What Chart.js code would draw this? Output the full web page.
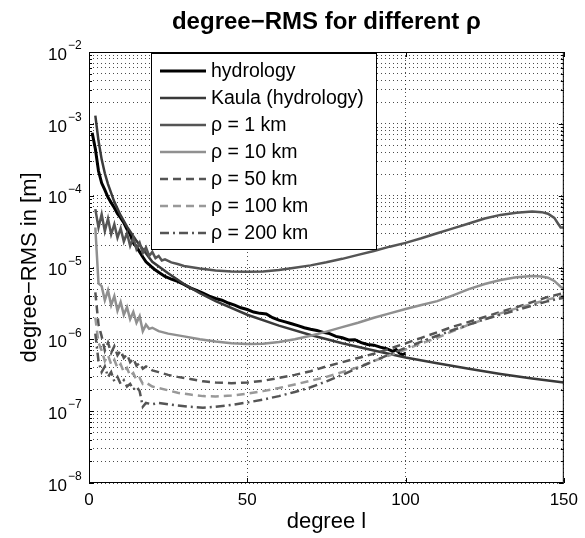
<!DOCTYPE html>
<html>
<head>
<meta charset="utf-8">
<script src="https://cdn.jsdelivr.net/npm/chart.js@4"></script>
<style>
  html, body { margin: 0; padding: 0; background: #fff; }
  canvas { display: block; }
</style>
</head>
<body>
<canvas id="chart" width="585" height="538"></canvas>
<script>
// ---- data (degree l -> degree-RMS in m) ----
const SERIES_LABELS = ['hydrology', 'Kaula (hydrology)', 'ρ = 1 km', 'ρ = 10 km', 'ρ = 50 km', 'ρ = 100 km', 'ρ = 200 km'];

const HYDRO_DEG = [1, 2, 3, 4, 5, 6, 7, 8, 9, 10, 11, 12, 13, 14, 15, 16, 17, 18, 19, 20, 21, 22, 24, 26, 28, 30, 32, 34, 36, 38, 40, 42, 44, 46, 48, 50, 52, 54, 56, 58, 60, 62, 64, 66, 68, 70, 72, 74, 76, 78, 80, 82, 84, 86, 88, 90, 92, 94, 96, 97, 98, 99, 100];
const HYDRO_VAL = [7.5e-4, 4.5e-4, 2.2e-4, 1.5e-4, 1.2e-4, 9.5e-5, 8.0e-5, 6.8e-5, 5.6e-5, 4.9e-5, 4.2e-5, 3.4e-5, 2.9e-5, 2.2e-5, 1.95e-5, 1.65e-5, 1.4e-5, 1.2e-5, 1.1e-5, 1.0e-5, 9.2e-6, 8.6e-6, 7.5e-6, 6.9e-6, 6.4e-6, 5.8e-6, 5.2e-6, 4.8e-6, 4.4e-6, 4.0e-6, 3.7e-6, 3.5e-6, 3.2e-6, 3.0e-6, 2.75e-6, 2.6e-6, 2.4e-6, 2.3e-6, 2.25e-6, 2.0e-6, 1.85e-6, 1.75e-6, 1.65e-6, 1.55e-6, 1.45e-6, 1.38e-6, 1.33e-6, 1.25e-6, 1.2e-6, 1.1e-6, 1.05e-6, 9.8e-7, 9.9e-7, 9.0e-7, 8.5e-7, 8.3e-7, 7.8e-7, 7.4e-7, 6.8e-7, 7.2e-7, 6.5e-7, 6.1e-7, 6.4e-7];

const KAULA_DEG = [2, 3, 4, 5, 6, 8, 10, 12, 15, 20, 25, 30, 35, 40, 50, 60, 70, 80, 90, 100, 110, 120, 130, 140, 150];
const KAULA_VAL = [1.3e-3, 5.8e-4, 3.2e-4, 2.05e-4, 1.45e-4, 8.2e-5, 5.3e-5, 3.7e-5, 2.35e-5, 1.2e-5, 8.3e-6, 5.9e-6, 4.4e-6, 3.4e-6, 2.2e-6, 1.55e-6, 1.15e-6, 8.8e-7, 7.0e-7, 5.6e-7, 4.65e-7, 3.9e-7, 3.3e-7, 2.85e-7, 2.5e-7];

const RHO1_DEG = [2, 3, 4, 5, 6, 7, 8, 9, 10, 11, 12, 13, 14, 15, 16, 17, 18, 19, 20, 21, 22, 23, 24, 26, 28, 30, 35, 40, 45, 50, 55, 60, 65, 70, 75, 80, 85, 90, 95, 100, 105, 110, 115, 120, 125, 130, 135, 140, 143, 145, 147, 148, 149, 150];
const RHO1_VAL = [6.5e-5, 3.6e-5, 5.5e-5, 3.2e-5, 4.8e-5, 2.9e-5, 4.0e-5, 2.6e-5, 3.5e-5, 2.3e-5, 3.0e-5, 2.0e-5, 2.6e-5, 1.8e-5, 2.2e-5, 1.6e-5, 1.9e-5, 1.45e-5, 1.65e-5, 1.35e-5, 1.45e-5, 1.25e-5, 1.3e-5, 1.18e-5, 1.12e-5, 1.05e-5, 9.7e-6, 9.1e-6, 8.8e-6, 8.7e-6, 8.8e-6, 9.2e-6, 9.9e-6, 1.07e-5, 1.18e-5, 1.32e-5, 1.5e-5, 1.7e-5, 1.95e-5, 2.2e-5, 2.55e-5, 3.0e-5, 3.5e-5, 4.1e-5, 4.8e-5, 5.4e-5, 5.8e-5, 6.0e-5, 5.9e-5, 5.6e-5, 4.9e-5, 4.2e-5, 3.6e-5, 3.6e-5];

const RHO10_DEG = [2, 3, 4, 5, 6, 7, 8, 9, 10, 11, 12, 13, 14, 15, 16, 17, 18, 19, 20, 22, 25, 30, 35, 40, 45, 50, 55, 60, 65, 70, 75, 80, 85, 90, 95, 100, 105, 110, 115, 120, 125, 130, 135, 140, 143, 145, 147, 149, 150];
const RHO10_VAL = [3.6e-5, 6.0e-6, 5.5e-6, 3.5e-6, 4.8e-6, 3.0e-6, 4.0e-6, 2.5e-6, 3.3e-6, 2.2e-6, 2.8e-6, 1.9e-6, 2.4e-6, 1.7e-6, 2.1e-6, 1.3e-6, 1.6e-6, 1.4e-6, 1.45e-6, 1.3e-6, 1.2e-6, 1.1e-6, 1.0e-6, 9.3e-7, 8.8e-7, 8.6e-7, 8.7e-7, 9.2e-7, 1.0e-6, 1.12e-6, 1.28e-6, 1.48e-6, 1.7e-6, 2.0e-6, 2.3e-6, 2.65e-6, 3.0e-6, 3.4e-6, 4.1e-6, 5.0e-6, 5.9e-6, 6.7e-6, 7.3e-6, 7.6e-6, 7.5e-6, 7.2e-6, 6.5e-6, 5.4e-6, 5.0e-6];

const RHO50_DEG = [2, 3, 4, 5, 6, 7, 8, 9, 10, 11, 12, 13, 14, 15, 16, 17, 18, 20, 22, 25, 28, 32, 36, 40, 45, 50, 55, 60, 65, 70, 75, 80, 85, 90, 95, 100, 105, 110, 115, 120, 125, 130, 135, 140, 145, 150];
const RHO50_VAL = [4.5e-6, 1.6e-6, 1.1e-6, 7.0e-7, 9.0e-7, 6.5e-7, 8.0e-7, 6.0e-7, 7.0e-7, 5.5e-7, 6.2e-7, 4.8e-7, 5.4e-7, 4.3e-7, 4.7e-7, 3.9e-7, 4.2e-7, 3.7e-7, 3.5e-7, 3.2e-7, 3.0e-7, 2.8e-7, 2.6e-7, 2.5e-7, 2.45e-7, 2.5e-7, 2.65e-7, 2.9e-7, 3.2e-7, 3.6e-7, 4.2e-7, 4.8e-7, 5.5e-7, 6.3e-7, 7.4e-7, 8.8e-7, 1.05e-6, 1.25e-6, 1.5e-6, 1.75e-6, 2.05e-6, 2.4e-6, 2.8e-6, 3.3e-6, 3.9e-6, 4.4e-6];

const RHO100_DEG = [2, 3, 4, 5, 6, 7, 8, 9, 10, 11, 12, 13, 14, 15, 16, 17, 18, 20, 22, 25, 28, 32, 36, 40, 45, 50, 55, 60, 65, 70, 75, 80, 85, 90, 95, 100, 105, 110, 115, 120, 125, 130, 135, 140, 145, 150];
const RHO100_VAL = [2.0e-6, 9.0e-7, 7.0e-7, 5.0e-7, 6.0e-7, 4.5e-7, 5.2e-7, 4.0e-7, 4.5e-7, 3.5e-7, 4.0e-7, 3.1e-7, 3.4e-7, 2.7e-7, 2.9e-7, 2.4e-7, 2.5e-7, 2.2e-7, 2.1e-7, 1.95e-7, 1.8e-7, 1.7e-7, 1.62e-7, 1.6e-7, 1.65e-7, 1.75e-7, 1.9e-7, 2.1e-7, 2.35e-7, 2.65e-7, 3.0e-7, 3.5e-7, 4.1e-7, 5.0e-7, 6.0e-7, 7.2e-7, 8.8e-7, 1.05e-6, 1.3e-6, 1.6e-6, 1.9e-6, 2.3e-6, 2.7e-6, 3.1e-6, 3.6e-6, 4.0e-6];

const RHO200_DEG = [2, 3, 4, 5, 6, 7, 8, 9, 10, 11, 12, 13, 14, 15, 16, 17, 18, 20, 22, 25, 28, 32, 36, 40, 45, 50, 55, 60, 65, 70, 75, 80, 85, 90, 95, 100, 105, 110, 115, 120, 125, 130, 135, 140, 145, 150];
const RHO200_VAL = [1.2e-6, 5.0e-7, 3.5e-7, 4.2e-7, 3.0e-7, 3.5e-7, 2.6e-7, 3.0e-7, 2.4e-7, 2.7e-7, 2.2e-7, 2.4e-7, 2.0e-7, 2.2e-7, 1.9e-7, 1.15e-7, 1.3e-7, 1.25e-7, 1.3e-7, 1.25e-7, 1.2e-7, 1.15e-7, 1.12e-7, 1.15e-7, 1.22e-7, 1.32e-7, 1.45e-7, 1.62e-7, 1.85e-7, 2.15e-7, 2.6e-7, 3.2e-7, 4.0e-7, 5.0e-7, 6.2e-7, 7.6e-7, 9.3e-7, 1.12e-6, 1.35e-6, 1.6e-6, 1.9e-6, 2.2e-6, 2.55e-6, 2.95e-6, 3.4e-6, 3.8e-6];

const X_TICKS = [0, 50, 100, 150];
const Y_EXPONENTS = [-8, -7, -6, -5, -4, -3, -2];

const FONT = '"Liberation Sans", Arial, Helvetica, sans-serif';

function pts(deg, val) {
  return deg.map(function (d, i) { return { x: d, y: val[i] }; });
}

// style of each series: colour, width, dash
const STYLES = [
  { color: '#000000', width: 3,   dash: [] },
  { color: '#3a3a3a', width: 2.5, dash: [] },
  { color: '#555555', width: 2.5, dash: [] },
  { color: '#909090', width: 2.5, dash: [] },
  { color: '#555555', width: 2.5, dash: [8, 5] },
  { color: '#999999', width: 2.5, dash: [8, 5] },
  { color: '#555555', width: 2.5, dash: [9, 4, 2, 4] }
];
const SERIES_DATA = [
  pts(HYDRO_DEG, HYDRO_VAL), pts(KAULA_DEG, KAULA_VAL), pts(RHO1_DEG, RHO1_VAL),
  pts(RHO10_DEG, RHO10_VAL), pts(RHO50_DEG, RHO50_VAL), pts(RHO100_DEG, RHO100_VAL),
  pts(RHO200_DEG, RHO200_VAL)
];

// draw order: dashed ones first, hydrology last (on top)
const DRAW_ORDER = [6, 5, 4, 3, 2, 1, 0];
const datasets = DRAW_ORDER.map(function (i) {
  return {
    label: SERIES_LABELS[i],
    data: SERIES_DATA[i],
    borderColor: STYLES[i].color,
    borderWidth: STYLES[i].width,
    borderDash: STYLES[i].dash,
    pointRadius: 0,
    tension: 0,
    fill: false
  };
});

// ---- plugins ------------------------------------------------------------
const frameTicks = {
  id: 'frameTicks',
  afterDatasetsDraw(chart) {
    const { ctx, chartArea: a, scales } = chart;
    ctx.save();
    ctx.strokeStyle = '#000';
    ctx.lineWidth = 1;
    ctx.setLineDash([]);
    ctx.strokeRect(a.left + 0.5, a.top + 0.5, a.right - a.left - 1, a.bottom - a.top - 1);
    ctx.beginPath();
    X_TICKS.forEach(function (v) {
      const px = Math.round(scales.x.getPixelForValue(v)) + 0.5;
      ctx.moveTo(px, a.bottom); ctx.lineTo(px, a.bottom - 5);
      ctx.moveTo(px, a.top); ctx.lineTo(px, a.top + 5);
    });
    scales.y.ticks.forEach(function (t) {
      const py = Math.round(scales.y.getPixelForValue(t.value)) + 0.5;
      const len = t.major ? 5 : 3;
      ctx.moveTo(a.left, py); ctx.lineTo(a.left + len, py);
      ctx.moveTo(a.right, py); ctx.lineTo(a.right - len, py);
    });
    ctx.stroke();
    ctx.restore();
  }
};

const labelsAndTitle = {
  id: 'labelsAndTitle',
  afterDraw(chart) {
    const { ctx, chartArea: a, scales } = chart;
    ctx.save();
    ctx.fillStyle = '#000';
    // y tick labels 10^n
    Y_EXPONENTS.forEach(function (e) {
      const py = scales.y.getPixelForValue(Math.pow(10, e));
      ctx.font = '17px ' + FONT;
      ctx.textAlign = 'right';
      ctx.textBaseline = 'middle';
      ctx.fillText('10', 67, py + 3);
      ctx.font = '12px ' + FONT;
      ctx.textAlign = 'left';
      ctx.fillText('\u2212' + Math.abs(e), 68, py - 6);
    });
    // title centred over the axes
    ctx.font = 'bold 24px ' + FONT;
    ctx.textAlign = 'center';
    ctx.textBaseline = 'middle';
    ctx.fillText('degree\u2212RMS for different \u03c1', (a.left + a.right) / 2, 22);
    ctx.restore();
  }
};

const boxLegend = {
  id: 'boxLegend',
  afterDraw(chart) {
    const ctx = chart.ctx;
    const bx = 151, by = 53, bw = 225, bh = 196;
    ctx.save();
    ctx.fillStyle = '#fff';
    ctx.fillRect(bx, by, bw, bh);
    ctx.strokeStyle = '#000';
    ctx.lineWidth = 1;
    ctx.strokeRect(bx + 0.5, by + 0.5, bw, bh);
    ctx.font = '19.5px ' + FONT;
    ctx.textAlign = 'left';
    ctx.textBaseline = 'middle';
    SERIES_LABELS.forEach(function (label, i) {
      const y = by + 18 + i * 27;
      ctx.strokeStyle = STYLES[i].color;
      ctx.lineWidth = STYLES[i].width;
      ctx.setLineDash(STYLES[i].dash);
      ctx.beginPath();
      ctx.moveTo(160, y);
      ctx.lineTo(206, y);
      ctx.stroke();
      ctx.setLineDash([]);
      ctx.fillStyle = '#000';
      ctx.fillText(label, 211, y + 1);
    });
    ctx.restore();
  }
};

// ---- chart --------------------------------------------------------------
const GRID = 'rgba(0,0,0,0.7)';

new Chart(document.getElementById('chart').getContext('2d'), {
  type: 'line',
  data: { datasets: datasets },
  options: {
    responsive: false,
    animation: false,
    devicePixelRatio: 1,
    layout: { padding: { top: 52, right: 17, left: 0, bottom: 0 } },
    plugins: { legend: { display: false }, tooltip: { enabled: false }, title: { display: false } },
    scales: {
      x: {
        type: 'linear',
        min: 0,
        max: 150,
        afterBuildTicks: function (scale) {
          scale.ticks = X_TICKS.map(function (v) { return { value: v }; });
        },
        afterFit: function (scale) { scale.height = 55; },
        ticks: { color: '#000', padding: 7, font: { family: FONT, size: 17 }, maxRotation: 0 },
        grid: { color: GRID, lineWidth: 1, drawTicks: false },
        border: { display: false, dash: [1, 3] },
        title: { display: true, text: 'degree l', color: '#000', font: { family: FONT, size: 22 }, padding: { top: 0, bottom: 3 } }
      },
      y: {
        type: 'logarithmic',
        min: 1e-8,
        max: 1e-2,
        afterBuildTicks: function (scale) {
          const t = [];
          for (let e = -8; e <= -2; e++) {
            for (let m = 1; m <= 9; m++) {
              if (e === -2 && m > 1) break;
              t.push({ value: m * Math.pow(10, e), major: m === 1 });
            }
          }
          scale.ticks = t;
        },
        afterFit: function (scale) { scale.width = 89; },
        ticks: { display: false },
        grid: { color: GRID, lineWidth: 1, drawTicks: false },
        border: { display: false, dash: [1, 3] },
        title: { display: true, text: 'degree\u2212RMS in [m]', color: '#000', font: { family: FONT, size: 22 }, padding: { top: 17, bottom: 0 } }
      }
    }
  },
  plugins: [frameTicks, labelsAndTitle, boxLegend]
});
</script>
</body>
</html>
